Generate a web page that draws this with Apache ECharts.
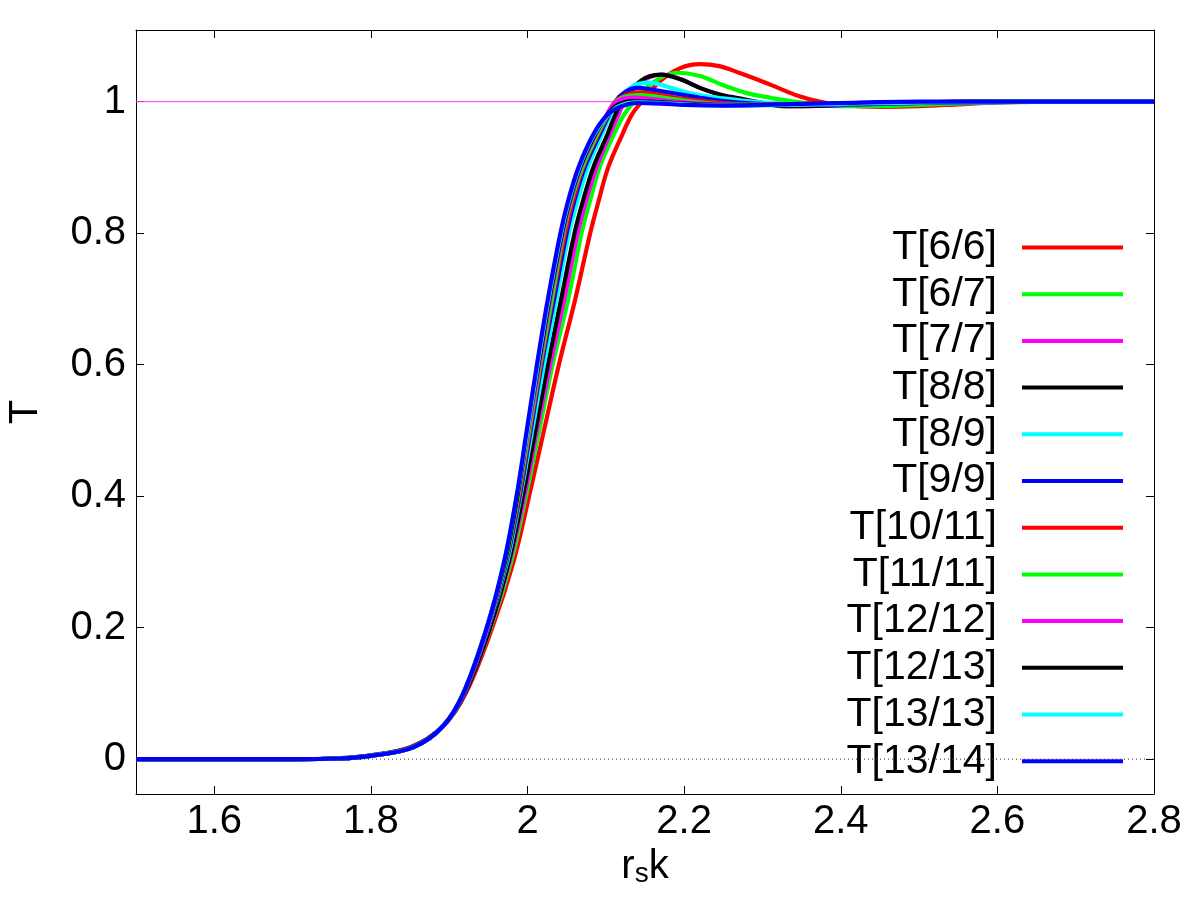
<!DOCTYPE html>
<html>
<head>
<meta charset="utf-8">
<script src="https://cdn.jsdelivr.net/npm/echarts@6/dist/echarts.min.js"></script>
<style>html,body{margin:0;padding:0;background:#fff}#c{width:1200px;height:900px}</style>
</head>
<body>
<div id="c"></div>
<script>
const seriesNames = ['T[6/6]','T[6/7]','T[7/7]','T[8/8]','T[8/9]','T[9/9]','T[10/11]','T[11/11]','T[12/12]','T[12/13]','T[13/13]','T[13/14]'];
const seriesColors = ['#ff0000','#00ff00','#ff00ff','#000000','#00ffff','#0000ff','#ff0000','#00ff00','#ff00ff','#000000','#00ffff','#0000ff'];
const xTicks = [1.6,1.8,2.0,2.2,2.4,2.6,2.8];
const yTicks = [0,0.2,0.4,0.6,0.8,1.0];

const T66 = [[1.5,0],[1.7,0],[1.75,0.001],[1.795,0.005],[1.850,0.018],[1.892,0.05],[1.921,0.1],[1.955,0.2],[1.982,0.3],[2.002,0.4],[2.021,0.5],[2.040,0.6],[2.061,0.7],[2.080,0.8],[2.091,0.85],[2.103,0.9],[2.121,0.95],[2.133,0.98],[2.146,1.0],[2.17,1.032],[2.195,1.051],[2.22,1.057],[2.245,1.054],[2.27,1.044],[2.295,1.033],[2.32,1.021],[2.345,1.009],[2.37,1.001],[2.4,0.995],[2.45,0.992],[2.5,0.993],[2.55,0.996],[2.6,0.999],[2.7,1.0],[2.8,1.0]];
const T67 = [[1.5,0],[1.7,0],[1.755,0.001],[1.796,0.005],[1.851,0.018],[1.892,0.05],[1.920,0.1],[1.953,0.2],[1.979,0.3],[1.998,0.4],[2.015,0.5],[2.032,0.6],[2.052,0.7],[2.069,0.8],[2.080,0.85],[2.092,0.9],[2.110,0.95],[2.123,0.98],[2.136,1.0],[2.16,1.029],[2.19,1.044],[2.22,1.039],[2.25,1.025],[2.28,1.013],[2.31,1.006],[2.34,1.0],[2.4,0.993],[2.45,0.993],[2.5,0.995],[2.6,0.999],[2.7,1.0],[2.8,1.0]];
const T77 = [[1.5,0],[1.7,0],[1.758,0.001],[1.797,0.005],[1.852,0.018],[1.892,0.05],[1.920,0.1],[1.952,0.2],[1.977,0.3],[1.996,0.4],[2.012,0.5],[2.029,0.6],[2.047,0.7],[2.064,0.8],[2.075,0.85],[2.088,0.9],[2.105,0.95],[2.116,0.98],[2.124,1.0],[2.148,1.032],[2.172,1.041],[2.196,1.034],[2.22,1.021],[2.245,1.011],[2.27,1.004],[2.3,0.997],[2.335,0.993],[2.39,0.994],[2.46,0.997],[2.56,0.999],[2.7,1.0],[2.8,1.0]];
const T88 = [[1.5,0],[1.7,0],[1.758,0.001],[1.797,0.005],[1.852,0.018],[1.892,0.05],[1.920,0.1],[1.952,0.2],[1.976,0.3],[1.994,0.4],[2.010,0.5],[2.026,0.6],[2.043,0.7],[2.060,0.8],[2.071,0.85],[2.084,0.9],[2.102,0.95],[2.112,0.98],[2.121,1.0],[2.145,1.032],[2.17,1.041],[2.195,1.034],[2.22,1.021],[2.245,1.011],[2.27,1.005],[2.3,0.998],[2.33,0.993],[2.38,0.994],[2.45,0.997],[2.55,0.999],[2.7,1.0],[2.8,1.0]];
const T89 = [[1.5,0],[1.7,0],[1.759,0.001],[1.798,0.005],[1.853,0.018],[1.892,0.05],[1.919,0.1],[1.950,0.2],[1.974,0.3],[1.991,0.4],[2.006,0.5],[2.021,0.6],[2.037,0.7],[2.053,0.8],[2.064,0.85],[2.077,0.9],[2.095,0.95],[2.106,0.98],[2.115,1.0],[2.135,1.024],[2.155,1.029],[2.175,1.024],[2.2,1.015],[2.225,1.009],[2.25,1.005],[2.28,1.001],[2.32,0.997],[2.38,0.995],[2.45,0.997],[2.55,0.999],[2.7,1.0],[2.8,1.0]];
const T99 = [[1.5,0],[1.7,0],[1.76,0.001],[1.799,0.005],[1.853,0.018],[1.892,0.05],[1.919,0.1],[1.950,0.2],[1.973,0.3],[1.990,0.4],[2.004,0.5],[2.018,0.6],[2.034,0.7],[2.050,0.8],[2.060,0.85],[2.073,0.9],[2.092,0.95],[2.104,0.98],[2.112,1.0],[2.125,1.015],[2.14,1.021],[2.16,1.018],[2.19,1.012],[2.22,1.006],[2.25,1.001],[2.29,0.997],[2.34,0.995],[2.4,0.996],[2.5,0.998],[2.6,1.0],[2.8,1.0]];
const T1011 = [[1.5,0],[1.7,0],[1.76,0.001],[1.799,0.005],[1.853,0.018],[1.892,0.05],[1.919,0.1],[1.949,0.2],[1.972,0.3],[1.989,0.4],[2.003,0.5],[2.017,0.6],[2.032,0.7],[2.048,0.8],[2.058,0.85],[2.071,0.9],[2.090,0.95],[2.103,0.98],[2.112,1.0],[2.125,1.01],[2.142,1.014],[2.165,1.011],[2.19,1.006],[2.215,1.002],[2.25,0.998],[2.3,0.996],[2.38,0.997],[2.5,0.999],[2.6,1.0],[2.8,1.0]];
const T1111 = [[1.5,0],[1.7,0],[1.76,0.001],[1.8,0.005],[1.854,0.018],[1.892,0.05],[1.918,0.1],[1.949,0.2],[1.972,0.3],[1.988,0.4],[2.002,0.5],[2.016,0.6],[2.031,0.7],[2.046,0.8],[2.056,0.85],[2.070,0.9],[2.089,0.95],[2.102,0.98],[2.112,1.0],[2.13,1.009],[2.145,1.01],[2.175,1.006],[2.21,1.0],[2.26,0.996],[2.33,0.996],[2.45,0.998],[2.6,1.0],[2.8,1.0]];
const T1212 = [[1.5,0],[1.7,0],[1.76,0.001],[1.8,0.005],[1.854,0.018],[1.892,0.05],[1.918,0.1],[1.949,0.2],[1.971,0.3],[1.987,0.4],[2.001,0.5],[2.015,0.6],[2.029,0.7],[2.045,0.8],[2.055,0.85],[2.068,0.9],[2.087,0.95],[2.101,0.98],[2.113,1.0],[2.135,1.006],[2.16,1.004],[2.19,1.0],[2.24,0.996],[2.3,0.995],[2.4,0.997],[2.5,0.999],[2.6,1.0],[2.8,1.0]];
const T1213 = [[1.5,0],[1.7,0],[1.76,0.001],[1.8,0.005],[1.854,0.018],[1.892,0.05],[1.918,0.1],[1.948,0.2],[1.971,0.3],[1.987,0.4],[2.000,0.5],[2.014,0.6],[2.028,0.7],[2.044,0.8],[2.054,0.85],[2.067,0.9],[2.086,0.95],[2.102,0.98],[2.115,0.995],[2.135,1.001],[2.16,1.0],[2.2,0.997],[2.25,0.995],[2.3,0.995],[2.4,0.997],[2.5,0.999],[2.6,1.0],[2.8,1.0]];
const T1313 = [[1.5,0],[1.7,0],[1.76,0.001],[1.8,0.005],[1.854,0.018],[1.892,0.05],[1.918,0.1],[1.948,0.2],[1.970,0.3],[1.986,0.4],[2.000,0.5],[2.013,0.6],[2.027,0.7],[2.043,0.8],[2.053,0.85],[2.066,0.9],[2.085,0.95],[2.103,0.98],[2.118,0.994],[2.14,0.999],[2.17,0.998],[2.22,0.995],[2.28,0.994],[2.36,0.996],[2.45,0.998],[2.6,1.0],[2.8,1.0]];
const T1314 = [[1.5,0],[1.7,0],[1.76,0.001],[1.8,0.005],[1.854,0.018],[1.892,0.05],[1.918,0.1],[1.948,0.2],[1.970,0.3],[1.986,0.4],[1.999,0.5],[2.012,0.6],[2.026,0.7],[2.042,0.8],[2.052,0.85],[2.065,0.9],[2.084,0.95],[2.102,0.98],[2.12,0.993],[2.14,0.998],[2.17,0.997],[2.2,0.995],[2.25,0.994],[2.3,0.995],[2.4,0.998],[2.5,1.0],[2.8,1.0]];
const seriesData = [T66,T67,T77,T88,T89,T99,T1011,T1111,T1212,T1213,T1313,T1314];

const unitLine = [[1.5,1],[2.8,1]];
const zeroLine = [[1.5,0],[2.8,0]];

const FONT = "'Liberation Sans', Arial, sans-serif";
const chart = echarts.init(document.getElementById('c'), null, {renderer:'canvas'});

const axisCommon = {
  type:'value',
  axisLine:{show:true, onZero:false, lineStyle:{color:'#000', width:1}},
  splitLine:{show:false},
  axisTick:{show:true, inside:true, length:8, lineStyle:{color:'#000', width:1}}
};

const series = [{
  name:'unit', type:'line', data:unitLine, showSymbol:false, symbol:'none',
  lineStyle:{color:'#ff33ff', width:1}, silent:true, z:1, legendHoverLink:false
}];
seriesData.forEach((d,i)=>{
  series.push({
    name:seriesNames[i], type:'line', data:d, showSymbol:false, symbol:'none',
    smooth:0.35,
    color:seriesColors[i],
    lineStyle:{color:seriesColors[i], width:4.2}, z:2+i
  });
});
series.push({
  name:'zero', type:'line', data:zeroLine, showSymbol:false, symbol:'none',
  lineStyle:{color:'#333', width:1, type:[1,3]}, silent:true, z:30
});

chart.setOption({
  animation:false,
  backgroundColor:'#fff',
  textStyle:{fontFamily:FONT},
  grid:{left:136, right:46, top:30, bottom:106, containLabel:false, outerBoundsMode:'none'},
  legend:{
    data:seriesNames, orient:'vertical', right:77, top:227, align:'right',
    icon:'rect', itemWidth:101, itemHeight:4, itemGap:5.7, padding:0,
    textStyle:{fontSize:41, lineHeight:40, color:'#000', fontFamily:FONT, padding:[0,20,0,0]},
    selectedMode:false
  },
  xAxis:[
    Object.assign({}, axisCommon, {
      min:1.5, max:2.8, position:'bottom',
      axisTick:Object.assign({}, axisCommon.axisTick, {customValues:xTicks}),
      axisLabel:{show:true, customValues:xTicks, fontSize:40, color:'#000', fontFamily:FONT, margin:8},
      name:'r{s|s}k', nameLocation:'middle', nameGap:44,
      nameTextStyle:{fontSize:40, color:'#000', fontFamily:FONT,
        rich:{s:{fontSize:28, color:'#000', fontFamily:FONT, padding:[14,0,0,0]}}}
    }),
    Object.assign({}, axisCommon, {
      min:1.5, max:2.8, position:'top',
      axisTick:Object.assign({}, axisCommon.axisTick, {customValues:xTicks}),
      axisLabel:{show:false}
    })
  ],
  yAxis:[
    Object.assign({}, axisCommon, {
      min:-0.053, max:1.109, position:'left',
      axisTick:Object.assign({}, axisCommon.axisTick, {customValues:yTicks}),
      axisLabel:{show:true, customValues:yTicks, fontSize:40, color:'#000', fontFamily:FONT, margin:10},
      name:'T', nameLocation:'middle', nameGap:90, nameRotate:90,
      nameTextStyle:{fontSize:40, color:'#000', fontFamily:FONT}
    }),
    Object.assign({}, axisCommon, {
      min:-0.053, max:1.109, position:'right',
      axisTick:Object.assign({}, axisCommon.axisTick, {customValues:yTicks}),
      axisLabel:{show:false}
    })
  ],
  series:series
});
</script>
</body>
</html>
